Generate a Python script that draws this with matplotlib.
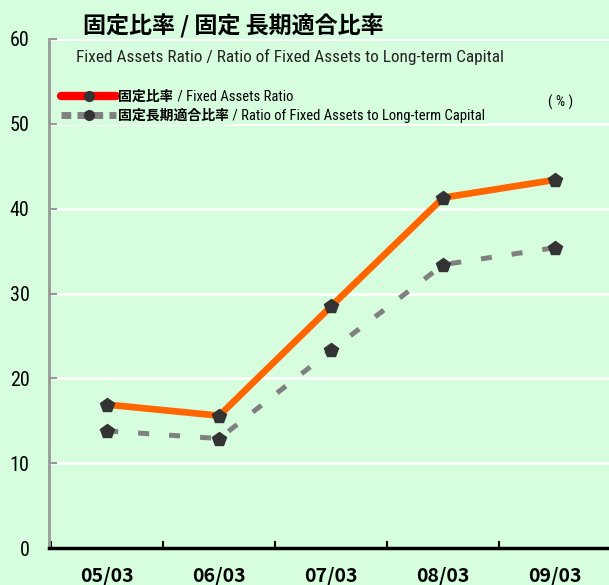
import matplotlib
matplotlib.use("Agg")
import matplotlib.pyplot as plt
from matplotlib import font_manager
from matplotlib.font_manager import FontProperties
from matplotlib.lines import Line2D

categories = ["05/03", "06/03", "07/03", "08/03", "09/03"]
fixed_ratio = [16.9, 15.6, 28.5, 41.3, 43.4]
longterm_ratio = [13.8, 12.9, 23.3, 33.4, 35.4]
yticks = [0, 10, 20, 30, 40, 50, 60]

title = "固定比率 / 固定 長期適合比率"
subtitle = "Fixed Assets Ratio / Ratio of Fixed Assets to Long-term Capital"
leg_jp = ["固定比率", "固定長期適合比率"]
leg_en = [" / Fixed Assets Ratio", " / Ratio of Fixed Assets to Long-term Capital"]

BG = "#D7FDDF"

def pick(fams):
    for f in fams:
        try:
            font_manager.findfont(f, fallback_to_default=False)
            return f
        except Exception:
            pass
    return "DejaVu Sans"

NARROW = pick(["Liberation Sans Narrow", "Arial Narrow", "Roboto Condensed", "DejaVu Sans Condensed", "Liberation Sans"])
JP = "Noto Sans CJK JP"

fig = plt.figure(figsize=(6.09, 5.85), dpi=100, facecolor=BG)
ax = fig.add_axes([49/609, 37/585, 560/609, 509/585])
ax.set_facecolor(BG)

x = list(range(len(categories)))
ax.plot(x, fixed_ratio, color="#FF6600", lw=4.8, marker="p", ms=10.5,
        mfc="#333333", mec="#333333", zorder=4, solid_joinstyle="miter")
ax.plot(x, longterm_ratio, color="#808080", lw=3.6, dashes=(2.2, 4), marker="p", ms=10.5,
        mfc="#333333", mec="#333333", zorder=3)

ax.set_xlim(-0.52, 4.48)
ax.set_ylim(0, 60)
ax.set_yticks(yticks)
ax.set_yticklabels([str(v) for v in yticks], fontproperties=FontProperties(family=NARROW, size=14.5))
ax.tick_params(axis="y", direction="in", length=6, width=1.5, color="#999999", pad=14)
ax.yaxis.grid(True, color="white", lw=2)
ax.set_axisbelow(True)

ax.set_xticks(x)
ax.set_xticklabels(categories, fontproperties=FontProperties(family=JP, weight="bold", size=14))
ax.tick_params(axis="x", which="major", length=0, pad=14)
ax.set_xticks([i + 0.5 for i in range(-1, 4)], minor=True)
ax.tick_params(axis="x", which="minor", direction="in", length=5, width=1.5, color="black")

for s in ["top", "right"]:
    ax.spines[s].set_visible(False)
ax.spines["left"].set_color("#999999")
ax.spines["left"].set_linewidth(2)
ax.spines["bottom"].set_color("black")
ax.spines["bottom"].set_linewidth(2.5)
ax.spines["bottom"].set_zorder(5)

fig.text(83/609, 1 - 26/585, title, family=JP, weight="bold", fontsize=16.6, va="center", ha="left")
fig.text(76/609, 1 - 57/585, subtitle, family=NARROW, fontsize=12.4, va="center", ha="left", color="#222222")
fig.text(561/609, 1 - 102/585, "( % )", family=NARROW, fontsize=10.5, va="center", ha="center")

h1 = Line2D([], [], color="#FF0000", lw=6, solid_capstyle="round", marker="o", ms=7,
            mfc="#333333", mec="#333333")
h2 = Line2D([], [], color="#808080", lw=5, dashes=(1.4, 0.9), marker="o", ms=7,
            mfc="#333333", mec="#333333")
leg = ax.legend([h1, h2], leg_jp, loc="upper left", bbox_to_anchor=(58/609, 1 - 87/585),
                bbox_transform=fig.transFigure, frameon=True, facecolor=BG, edgecolor="none",
                framealpha=1, fancybox=False,
                prop=FontProperties(family=JP, weight="bold", size=10),
                handlelength=4.0, handletextpad=0.15, labelspacing=0.35, borderpad=0.2,
                borderaxespad=0)
leg.set_zorder(6)
for t, en in zip(leg.get_texts(), leg_en):
    ax.annotate(en, xy=(1, 0.5), xycoords=t, xytext=(0, 0), textcoords="offset points",
                va="center", ha="left", fontproperties=FontProperties(family=NARROW, size=10.5),
                bbox=dict(fc=BG, ec="none", pad=1), zorder=7, annotation_clip=False)

fig.savefig("out.png", dpi=100, facecolor=BG)
